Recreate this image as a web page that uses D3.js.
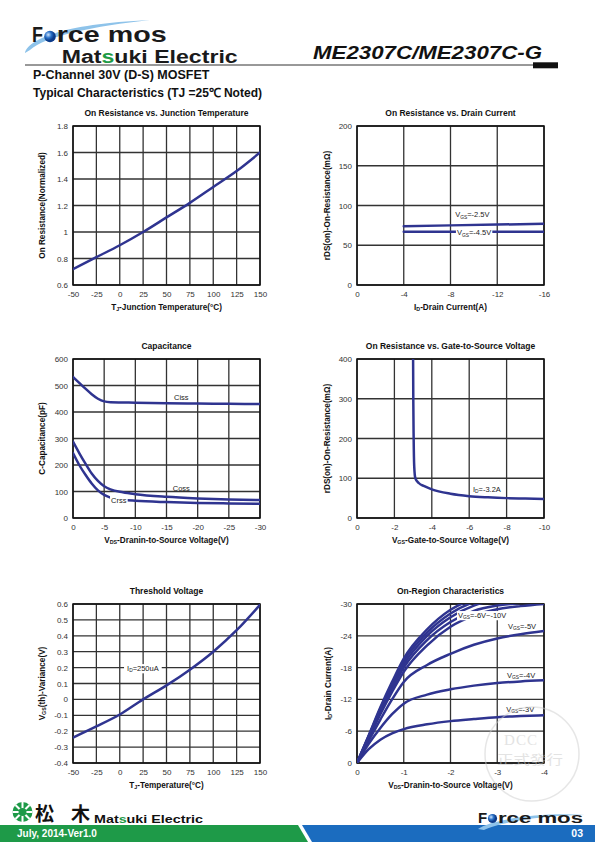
<!DOCTYPE html>
<html><head><meta charset="utf-8">
<script src="https://cdn.jsdelivr.net/npm/d3@7/dist/d3.min.js"></script>
<style>
html,body{margin:0;padding:0;background:#fff;}
svg{display:block;font-family:"Liberation Sans",Arial,Helvetica,sans-serif;}
</style></head><body>
<svg id="c" width="595" height="842"></svg>
<script>
// ---------------- DATA ----------------
// Chart 1: On Resistance vs. Junction Temperature
const c1Temps = [-50,-25,0,25,50,75,100,125,150];
const c1Rds = [0.72,0.81,0.90,1.00,1.11,1.22,1.34,1.46,1.60];
const c1XTicks = [-50,-25,0,25,50,75,100,125,150];
const c1YTicks = [0.6,0.8,1,1.2,1.4,1.6,1.8];

// Chart 2: On Resistance vs. Drain Current
const c2Id = [-4,-8,-12,-16];
const c2RdsVgs25 = [74,75,76,77];
const c2RdsVgs45 = [67,67,67,67];
const c2XTicks = [0,-4,-8,-12,-16];
const c2YTicks = [0,50,100,150,200];

// Chart 3: Capacitance
const c3Vds = [0,-1,-2,-3,-4,-5,-6,-8,-10,-15,-20,-25,-30];
const c3Ciss = [532,510,488,467,450,440,437,436,435,433,432,431,430];
const c3Coss = [288,245,205,168,140,120,108,97,90,80,74,70,68];
const c3Crss = [245,200,163,130,104,87,77,69,65,60,57,55,54];
const c3XTicks = [0,-5,-10,-15,-20,-25,-30];
const c3YTicks = [0,100,200,300,400,500,600];

// Chart 4: On Resistance vs. Gate-to-Source Voltage
const c4Vgs = [-3.0,-3.01,-3.03,-3.06,-3.12,-3.3,-3.6,-4,-5,-6,-7,-8,-9,-10];
const c4Rds = [400,300,200,130,100,88,80,72,61,55,52,50,49,48];
const c4XTicks = [0,-2,-4,-6,-8,-10];
const c4YTicks = [0,100,200,300,400];

// Chart 5: Threshold Voltage
const c5Temps = [-50,-25,0,25,50,75,100,125,150];
const c5Vth = [-0.24,-0.17,-0.095,0,0.088,0.187,0.30,0.435,0.595];
const c5XTicks = [-50,-25,0,25,50,75,100,125,150];
const c5YTicks = [-0.4,-0.3,-0.2,-0.1,0,0.1,0.2,0.3,0.4,0.5,0.6];

// Chart 6: On-Region Characteristics
const c6Vds = [0,-0.25,-0.5,-0.75,-1,-1.5,-2,-2.5,-3,-3.5,-4];
const c6IdVgs3 = [0,-2.6,-4.4,-5.6,-6.4,-7.3,-7.9,-8.3,-8.65,-8.85,-9.0];
const c6IdVgs4 = [0,-3.6,-6.6,-9.2,-11.2,-12.9,-13.9,-14.6,-15.1,-15.4,-15.6];
const c6IdVgs5 = [0,-4.2,-8.2,-12.0,-15.3,-18.5,-20.6,-22.3,-23.5,-24.3,-24.9];
const c6IdVgs6 = [0,-4.6,-9.2,-13.4,-17.2,-22.2,-25.7,-27.8,-29.0,-29.6,-30.0];
const c6IdVgs7 = [0,-4.8,-9.6,-14.0,-18.0,-23.2,-26.6,-28.7,-29.7,-30.2,-30.5];
const c6IdVgs8 = [0,-5.0,-10.0,-14.5,-18.6,-24.0,-27.5,-29.7,-30.8,-31.3,-31.6];
const c6IdVgs9 = [0,-5.1,-10.3,-14.9,-19.2,-24.6,-28.2,-30.4,-31.5,-32.0,-32.3];
const c6IdVgs10 = [0,-5.2,-10.5,-15.3,-19.7,-25.2,-28.9,-31.0,-32.2,-32.7,-33.0];
const c6XTicks = [0,-1,-2,-3,-4];
const c6YTicks = [0,-6,-12,-18,-24,-30];

// ---------------- DRAWING ----------------
const svg = d3.select('#c');
const NAVY = '#2f3490';
const FONT = '"Liberation Sans",Arial,Helvetica,sans-serif';

// rich text with subscripts: parts are strings or {sub:"..."}
function rich(g, x, y, parts, size, opts={}) {
  const t = g.append('text').attr('x', x).attr('y', y)
    .attr('font-size', size).attr('font-family', FONT)
    .attr('fill', opts.fill || '#111')
    .attr('font-weight', opts.weight || 'normal')
    .attr('text-anchor', opts.anchor || 'start');
  if (opts.rotate) t.attr('transform', `rotate(-90,${x},${y})`);
  let shifted = false;
  parts.forEach(p => {
    const s = t.append('tspan');
    if (typeof p === 'string') {
      s.text(p);
      if (shifted) { s.attr('dy', -1.2); shifted = false; }
    } else {
      s.text(p.sub).attr('font-size', size * 0.65).attr('dy', 1.2);
      shifted = true;
    }
  });
  return t;
}

let clipId = 0;
function chart(o) {
  const g = svg.append('g');
  const x = d3.scaleLinear().domain(o.xDom).range([o.x0, o.x1]);
  const y = d3.scaleLinear().domain(o.yDom).range([o.y1, o.y0]);
  // grid
  g.append('g').selectAll('line').data(o.xTicks).join('line')
    .attr('x1', d => x(d)).attr('x2', d => x(d)).attr('y1', o.y0).attr('y2', o.y1)
    .attr('stroke', '#333').attr('stroke-width', 1.3);
  g.append('g').selectAll('line').data(o.yTicks).join('line')
    .attr('y1', d => y(d)).attr('y2', d => y(d)).attr('x1', o.x0).attr('x2', o.x1)
    .attr('stroke', '#333').attr('stroke-width', 1.3);
  // frame
  g.append('rect').attr('x', o.x0).attr('y', o.y0).attr('width', o.x1 - o.x0).attr('height', o.y1 - o.y0)
    .attr('fill', 'none').attr('stroke', '#111').attr('stroke-width', 1.5);
  // axes
  const fmt = d => String(d);
  const ax = g.append('g').attr('transform', `translate(0,${o.y1})`)
    .call(d3.axisBottom(x).tickValues(o.xTicks).tickSize(0).tickPadding(6).tickFormat(fmt));
  const ay = g.append('g').attr('transform', `translate(${o.x0},0)`)
    .call(d3.axisLeft(y).tickValues(o.yTicks).tickSize(0).tickPadding(5).tickFormat(fmt));
  [ax, ay].forEach(a => {
    a.select('.domain').remove();
    a.attr('font-size', 8).attr('font-family', FONT);
    a.selectAll('text').attr('fill', '#333');
  });
  // title
  g.append('text').attr('x', (o.x0 + o.x1) / 2).attr('y', o.y0 - 10)
    .attr('text-anchor', 'middle').attr('font-size', 8.5).attr('font-weight', 'bold')
    .attr('font-family', FONT).attr('fill', '#111').text(o.title);
  // axis titles
  rich(g, (o.x0 + o.x1) / 2, o.y1 + 25, o.xTitle, 8.2, {weight: 'bold', anchor: 'middle'});
  rich(g, o.yTitleX, (o.y0 + o.y1) / 2, o.yTitle, 8.2, {weight: 'bold', anchor: 'middle', rotate: true});
  // clip
  const id = 'clip' + (clipId++);
  g.append('clipPath').attr('id', id).append('rect')
    .attr('x', o.x0).attr('y', o.y0).attr('width', o.x1 - o.x0).attr('height', o.y1 - o.y0);
  const plot = g.append('g').attr('clip-path', `url(#${id})`);
  return {g, plot, x, y};
}

function series(c, xs, ys, curve) {
  const line = d3.line().x(d => c.x(d[0])).y(d => c.y(d[1])).curve(curve || d3.curveMonotoneX);
  c.plot.append('path').datum(xs.map((v, i) => [v, ys[i]]))
    .attr('d', line).attr('fill', 'none').attr('stroke', NAVY)
    .attr('stroke-width', 2.5).attr('stroke-linejoin', 'round').attr('stroke-linecap', 'round');
}

function label(c, xv, yv, parts, bg, size) {
  const t = rich(c.g, c.x(xv), c.y(yv), parts, size || 7.5, {fill: '#222'});
  if (bg) {
    const b = t.node().getBBox();
    c.g.insert('rect', () => t.node()).attr('x', b.x - bg).attr('y', b.y).attr('width', b.width + 2 * bg)
      .attr('height', b.height).attr('fill', '#fff');
  }
  return t;
}

// ---- Header ----
const hdr = svg.append('g');
hdr.append('path').attr('d', 'M25,53 C28,40 60,24 150,20 C95,26 45,36 30,50 Z')
  .attr('fill', '#8ec3ea');
hdr.append('text').attr('x', 32).attr('y', 41.8).attr('font-size', 22.5).attr('font-weight', 'bold')
  .attr('font-family', FONT).attr('fill', '#1a1a1a').attr('textLength', 11).attr('lengthAdjust', 'spacingAndGlyphs').text('F');
const ballG = svg.append('defs').append('radialGradient').attr('id', 'ball').attr('cx', '35%').attr('cy', '35%');
ballG.append('stop').attr('offset', '0%').attr('stop-color', '#cfe6ff');
ballG.append('stop').attr('offset', '55%').attr('stop-color', '#2b72c8');
ballG.append('stop').attr('offset', '100%').attr('stop-color', '#0c3b8a');
hdr.append('circle').attr('cx', 50).attr('cy', 36.5).attr('r', 5.8).attr('fill', 'url(#ball)');
hdr.append('text').attr('x', 56.7).attr('y', 41.8).attr('font-size', 22.5).attr('font-weight', 'bold')
  .attr('font-family', FONT).attr('fill', '#1a1a1a').attr('textLength', 110).attr('lengthAdjust', 'spacingAndGlyphs')
  .text('rce mos');
const mt = hdr.append('text').attr('x', 61.7).attr('y', 63.2).attr('font-size', 18).attr('font-weight', 'bold')
  .attr('font-family', FONT).attr('fill', '#1a1a1a').attr('textLength', 176).attr('lengthAdjust', 'spacingAndGlyphs');
mt.append('tspan').text('Mat');
mt.append('tspan').attr('fill', '#1e9b46').text('s');
mt.append('tspan').text('uki Electric');
hdr.append('text').attr('x', 313).attr('y', 59.3).attr('font-size', 18.5).attr('font-weight', 'bold')
  .attr('font-style', 'italic').attr('font-family', FONT).attr('fill', '#111')
  .attr('textLength', 229).attr('lengthAdjust', 'spacingAndGlyphs').text('ME2307C/ME2307C-G');
hdr.append('line').attr('x1', 25).attr('x2', 534).attr('y1', 65).attr('y2', 65)
  .attr('stroke', '#333').attr('stroke-width', 1);
hdr.append('rect').attr('x', 533).attr('y', 62.3).attr('width', 25).attr('height', 6).attr('fill', '#111');
hdr.append('text').attr('x', 33).attr('y', 79).attr('font-size', 12.5).attr('font-weight', 'bold')
  .attr('font-family', FONT).attr('fill', '#111').text('P-Channel 30V (D-S) MOSFET');
hdr.append('text').attr('x', 33).attr('y', 97).attr('font-size', 12.5).attr('font-weight', 'bold')
  .attr('font-family', FONT).attr('fill', '#111').attr('textLength', 229).attr('lengthAdjust', 'spacingAndGlyphs')
  .text('Typical Characteristics (TJ =25\u2103 Noted)');

// ---- Chart 1 ----
const C1 = chart({x0: 73, x1: 260, y0: 126, y1: 285, xDom: [-50, 150], yDom: [0.6, 1.8],
  xTicks: c1XTicks, yTicks: c1YTicks, title: 'On Resistance vs. Junction Temperature',
  xTitle: ['T', {sub: 'J'}, '-Junction Temperature(\u00B0C)'], yTitle: ['On Resistance(Normalized)'], yTitleX: 45});
series(C1, c1Temps, c1Rds);

// ---- Chart 2 ----
const C2 = chart({x0: 357, x1: 544, y0: 126, y1: 285, xDom: [0, -16], yDom: [0, 200],
  xTicks: c2XTicks, yTicks: c2YTicks, title: 'On Resistance vs. Drain Current',
  xTitle: ['I', {sub: 'D'}, '-Drain Current(A)'], yTitle: ['rDS(on)-On-Resistance(m\u03A9)'], yTitleX: 330});
series(C2, c2Id, c2RdsVgs25, d3.curveLinear);
series(C2, c2Id, c2RdsVgs45, d3.curveLinear);
label(C2, -8.4, 85, ['V', {sub: 'GS'}, '=-2.5V']);
label(C2, -8.55, 62.5, ['V', {sub: 'GS'}, '=-4.5V'], 1);

// ---- Chart 3 ----
const C3 = chart({x0: 73, x1: 260, y0: 359, y1: 518, xDom: [0, -30], yDom: [0, 600],
  xTicks: c3XTicks, yTicks: c3YTicks, title: 'Capacitance',
  xTitle: ['V', {sub: 'DS'}, '-Dranin-to-Source Voltage(V)'], yTitle: ['C-Capacitance(pF)'], yTitleX: 45});
series(C3, c3Vds, c3Ciss);
series(C3, c3Vds, c3Coss);
series(C3, c3Vds, c3Crss);
label(C3, -16.2, 446, ['Ciss']);
label(C3, -16, 102, ['Coss']);
label(C3, -6.1, 58, ['Crss'], 1);

// ---- Chart 4 ----
const C4 = chart({x0: 357, x1: 544, y0: 359, y1: 518, xDom: [0, -10], yDom: [0, 400],
  xTicks: c4XTicks, yTicks: c4YTicks, title: 'On Resistance vs. Gate-to-Source Voltage',
  xTitle: ['V', {sub: 'GS'}, '-Gate-to-Source Voltage(V)'], yTitle: ['rDS(on)-On-Resistance(m\u03A9)'], yTitleX: 330});
series(C4, c4Vgs, c4Rds);
label(C4, -6.2, 66, ['I', {sub: 'D'}, '=-3.2A']);

// ---- Chart 5 ----
const C5 = chart({x0: 73, x1: 260, y0: 604, y1: 763, xDom: [-50, 150], yDom: [-0.4, 0.6],
  xTicks: c5XTicks, yTicks: c5YTicks, title: 'Threshold Voltage',
  xTitle: ['T', {sub: 'J'}, '-Temperature(\u00B0C)'], yTitle: ['V', {sub: 'GS'}, '(th)-Variance(V)'], yTitleX: 45});
series(C5, c5Temps, c5Vth);
label(C5, 7.8, 0.178, ['I', {sub: 'D'}, '=250uA'], 3);

// ---- Chart 6 ----
const C6 = chart({x0: 357, x1: 544, y0: 604, y1: 763, xDom: [0, -4], yDom: [0, -30],
  xTicks: c6XTicks, yTicks: c6YTicks, title: 'On-Region Characteristics',
  xTitle: ['V', {sub: 'DS'}, '-Dranin-to-Source Voltage(V)'], yTitle: ['I', {sub: 'D'}, '-Drain Current(A)'], yTitleX: 331});
[c6IdVgs3, c6IdVgs4, c6IdVgs5, c6IdVgs6, c6IdVgs7, c6IdVgs8, c6IdVgs9, c6IdVgs10]
  .forEach(s => series(C6, c6Vds, s));
label(C6, -2.16, -27.35, ['V', {sub: 'GS'}, '=-6V~-10V'], 1);
label(C6, -3.23, -25.3, ['V', {sub: 'GS'}, '=-5V']);
label(C6, -3.21, -16.1, ['V', {sub: 'GS'}, '=-4V']);
label(C6, -3.19, -9.7, ['V', {sub: 'GS'}, '=-3V']);

// watermark
const wm = svg.append('g').attr('opacity', 0.5);
wm.append('circle').attr('cx', 532).attr('cy', 754).attr('r', 47).attr('fill', 'none')
  .attr('stroke', '#cfcfcf').attr('stroke-width', 1.5);
wm.append('text').attr('x', 521).attr('y', 745).attr('text-anchor', 'middle').attr('font-size', 15)
  .attr('font-family', '"Liberation Serif",serif').attr('fill', '#c8c8c8').attr('letter-spacing', 1).text('DCC');
wm.append('text').attr('x', 530).attr('y', 764).attr('text-anchor', 'middle').attr('font-size', 13)
  .attr('font-family', '"Noto Sans CJK TC",sans-serif').attr('fill', '#c8c8c8')
  .attr('textLength', 66).attr('lengthAdjust', 'spacingAndGlyphs').text('正式發行');

// ---- Footer ----
const ft = svg.append('g');
ft.append('path').attr('d', 'M0,825 L298,825 L308,842 L0,842 Z').attr('fill', '#1e9a48');
ft.append('path').attr('d', 'M302,825 L595,825 L595,842 L312,842 Z').attr('fill', '#1b6cbf');
ft.append('text').attr('x', 17).attr('y', 836.5).attr('font-size', 10).attr('font-weight', 'bold')
  .attr('font-family', FONT).attr('fill', '#fff').text('July, 2014-Ver1.0');
// matsuki emblem
ft.append('circle').attr('cx', 22.5).attr('cy', 812).attr('r', 10).attr('fill', '#1e9a48');
[0, 45, 90, 135].forEach(a => ft.append('rect').attr('x', 21.5).attr('y', 802).attr('width', 2).attr('height', 20)
  .attr('fill', '#fff').attr('transform', `rotate(${a},22.5,812)`));
ft.append('circle').attr('cx', 22.5).attr('cy', 812).attr('r', 4).attr('fill', '#1e9a48');
ft.append('text').attr('x', 35).attr('y', 821).attr('font-size', 19).attr('font-weight', 'bold')
  .attr('font-family', '"Noto Sans CJK JP",sans-serif').attr('fill', '#111')
  .attr('textLength', 55).attr('lengthAdjust', 'spacing').text('松木');
const fm = ft.append('text').attr('x', 94).attr('y', 823).attr('font-size', 11).attr('font-weight', 'bold')
  .attr('font-family', FONT).attr('fill', '#111').attr('textLength', 109).attr('lengthAdjust', 'spacingAndGlyphs');
fm.append('tspan').text('Mat');
fm.append('tspan').attr('fill', '#1e9b46').text('s');
fm.append('tspan').text('uki Electric');
ft.append('path').attr('d', 'M478,829 C490,820 540,812 585,815 C545,815 500,822 484,830 Z').attr('fill', '#8ec3ea');
ft.append('text').attr('x', 478).attr('y', 823).attr('font-size', 15).attr('font-weight', 'bold')
  .attr('font-family', FONT).attr('fill', '#1a1a1a').text('F');
ft.append('circle').attr('cx', 492.5).attr('cy', 818.5).attr('r', 4.6).attr('fill', 'url(#ball)');
ft.append('text').attr('x', 498).attr('y', 823).attr('font-size', 15).attr('font-weight', 'bold')
  .attr('font-family', FONT).attr('fill', '#1a1a1a').attr('textLength', 85).attr('lengthAdjust', 'spacingAndGlyphs')
  .text('rce mos');
ft.append('text').attr('x', 583).attr('y', 837).attr('text-anchor', 'end').attr('font-size', 10.5).attr('font-weight', 'bold')
  .attr('font-family', FONT).attr('fill', '#fff').text('03');
</script>
</body></html>
